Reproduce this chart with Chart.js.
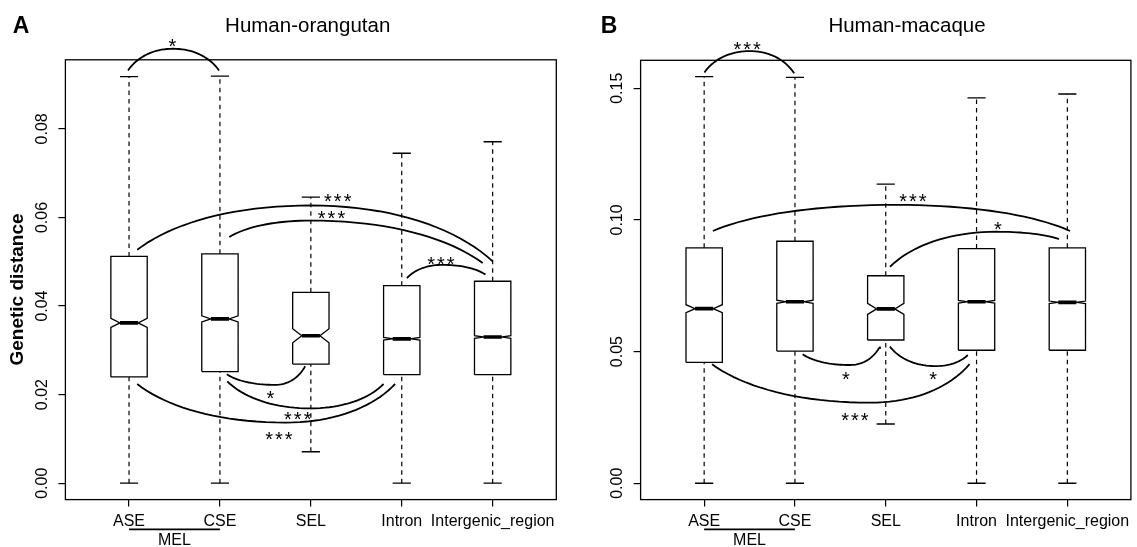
<!DOCTYPE html>
<html lang="en">
<head>
<meta charset="UTF-8">
<title>Genetic distance by region</title>
<script src="https://cdn.jsdelivr.net/npm/chart.js"></script>
<style>
  html, body {
    margin: 0;
    padding: 0;
    background: #fff;
    overflow: hidden;
  }
  .panel {
    position: absolute;
    top: 0;
    height: 547px;
  }
  #panelA { left: 0; width: 570px; }
  #panelB { left: 570px; width: 567px; }
</style>
</head>
<body>
<div class="panel" id="panelA"><canvas id="chartA" width="570" height="547"></canvas></div>
<div class="panel" id="panelB"><canvas id="chartB" width="567" height="547"></canvas></div>

<script>
const categories = ['ASE', 'CSE', 'SEL', 'Intron', 'Intergenic_region'];

// Panel A: Human-orangutan
const yTicksA = [0, 0.02, 0.04, 0.06, 0.08];
const minA   = [0, 0, 0.0071, 0, 0];
const q1A    = [0.0240, 0.0252, 0.0269, 0.0245, 0.0245];
const medA   = [0.0362, 0.0371, 0.0333, 0.0326, 0.0330];
const q3A    = [0.0512, 0.0518, 0.0431, 0.0446, 0.0456];
const maxA   = [0.0918, 0.0919, 0.0646, 0.0745, 0.0771];
const notchA = [0.0010, 0.0007, 0.0016, 0.0003, 0.0003];

// Panel B: Human-macaque
const yTicksB = [0, 0.05, 0.10, 0.15];
const minB   = [0, 0, 0.0225, 0, 0];
const q1B    = [0.0459, 0.0502, 0.0544, 0.0505, 0.0505];
const medB   = [0.0663, 0.0689, 0.0662, 0.0689, 0.0687];
const q3B    = [0.0894, 0.0919, 0.0788, 0.0891, 0.0894];
const maxB   = [0.1544, 0.1541, 0.1136, 0.1463, 0.1478];
const notchB = [0.0015, 0.0006, 0.0021, 0.0005, 0.0005];

// significance brackets: [x start, y start, x peak, y peak, x end, y end] (category index / distance)
const arcsA = [
  [-0.011, 0.0932, 0.483, 0.0981, 0.990, 0.0932],
  [0.090, 0.0527, 1.996, 0.0627, 4.000, 0.0501],
  [1.103, 0.0556, 1.996, 0.0593, 3.890, 0.0497],
  [3.056, 0.0463, 3.450, 0.0493, 3.921, 0.0471],
  [1.076, 0.0246, 1.603, 0.0222, 1.937, 0.0264],
  [1.080, 0.0230, 1.996, 0.0169, 2.800, 0.0224],
  [0.090, 0.0224, 1.720, 0.0137, 2.927, 0.0224]
];
const starsA  = ['*', '***', '***', '***', '*', '***', '***'];
const starXYA = [[0.478, 0.0998], [2.296, 0.0647], [2.227, 0.0608], [3.43, 0.0505],
                 [1.556, 0.0203], [1.856, 0.0156], [1.649, 0.0111]];

const arcsB = [
  [0.003, 0.1560, 0.501, 0.1641, 0.991, 0.1557],
  [0.096, 0.0958, 2.107, 0.1057, 4.030, 0.0958],
  [2.047, 0.0822, 3.222, 0.0955, 3.907, 0.0927],
  [1.085, 0.0490, 1.605, 0.0449, 1.936, 0.0519],
  [2.046, 0.0519, 2.545, 0.0445, 2.903, 0.0487],
  [0.087, 0.0452, 1.828, 0.0306, 2.923, 0.0452]
];
const starsB  = ['***', '***', '*', '*', '*', '***'];
const starXYB = [[0.474, 0.1667], [2.298, 0.1088], [3.234, 0.0984],
                 [1.56, 0.0414], [2.523, 0.0414], [1.661, 0.0259]];

const FONT = "'Liberation Sans', Arial, Helvetica, sans-serif";
Chart.defaults.font.family = FONT;
Chart.defaults.color = '#000';

const BOX_HALF = 0.2, NOTCH_HALF = 0.1, CAP_HALF = 0.1;

function gap(i) { return {x: i, y: null}; }

function boxOutline(q1, med, q3, notch) {
  const pts = [];
  q1.forEach((v, i) => {
    const m = med[i], n = notch[i];
    pts.push(
      {x: i - BOX_HALF, y: v}, {x: i + BOX_HALF, y: v},
      {x: i + BOX_HALF, y: m - n}, {x: i + NOTCH_HALF, y: m}, {x: i + BOX_HALF, y: m + n},
      {x: i + BOX_HALF, y: q3[i]}, {x: i - BOX_HALF, y: q3[i]},
      {x: i - BOX_HALF, y: m + n}, {x: i - NOTCH_HALF, y: m}, {x: i - BOX_HALF, y: m - n},
      {x: i - BOX_HALF, y: v}, gap(i)
    );
  });
  return pts;
}

function whiskers(lo, q1, q3, hi) {
  const pts = [];
  lo.forEach((v, i) => {
    pts.push({x: i, y: q3[i]}, {x: i, y: hi[i]}, gap(i), {x: i, y: v}, {x: i, y: q1[i]}, gap(i));
  });
  return pts;
}

function caps(lo, hi) {
  const pts = [];
  lo.forEach((v, i) => {
    pts.push({x: i - CAP_HALF, y: hi[i]}, {x: i + CAP_HALF, y: hi[i]}, gap(i),
             {x: i - CAP_HALF, y: v}, {x: i + CAP_HALF, y: v}, gap(i));
  });
  return pts;
}

function medians(med) {
  const pts = [];
  med.forEach((m, i) => {
    pts.push({x: i - NOTCH_HALF, y: m}, {x: i + NOTCH_HALF, y: m}, gap(i));
  });
  return pts;
}

function addCubic(pts, p0, c1, c2, p1) {
  for (let k = 0; k <= 20; k++) {
    const t = k / 20, u = 1 - t;
    pts.push({
      x: u*u*u*p0[0] + 3*u*u*t*c1[0] + 3*u*t*t*c2[0] + t*t*t*p1[0],
      y: u*u*u*p0[1] + 3*u*u*t*c1[1] + 3*u*t*t*c2[1] + t*t*t*p1[1]
    });
  }
}

function arcLines(arcs) {
  const pts = [];
  arcs.forEach(a => {
    const [x0, y0, xp, yp, x1, y1] = a;
    let dx = xp - x0, dy = yp - y0;
    addCubic(pts, [x0, y0], [x0 + 0.2*dx, y0 + 0.6*dy], [xp - 0.45*dx, yp], [xp, yp]);
    dx = x1 - xp; dy = y1 - yp;
    addCubic(pts, [xp, yp], [xp + 0.45*dx, yp], [x1 - 0.2*dx, y1 - 0.6*dy], [x1, y1]);
    pts.push(gap(x1));
  });
  return pts;
}

function lineSet(data, width, dash) {
  return {
    data: data,
    showLine: true,
    spanGaps: false,
    pointRadius: 0,
    borderColor: '#000',
    borderWidth: width,
    borderDash: dash || [],
    borderCapStyle: 'butt',
    tension: 0,
    fill: false,
    clip: false
  };
}

const decor = {
  id: 'decor',
  afterDraw(chart, args, o) {
    const {ctx, chartArea: a, scales: {x, y}} = chart;
    ctx.save();
    ctx.strokeStyle = '#000';
    ctx.lineWidth = 1.3;
    ctx.strokeRect(a.left, a.top, a.right - a.left, a.bottom - a.top);

    ctx.fillStyle = '#000';
    ctx.font = '20px ' + FONT;
    ctx.textAlign = 'center';
    ctx.textBaseline = 'alphabetic';
    ctx.letterSpacing = '2px';
    o.stars.forEach((s, k) => {
      const p = o.starXY[k];
      ctx.fillText(s, x.getPixelForValue(p[0]) + 1, y.getPixelForValue(p[1]) + 11.5);
    });
    ctx.letterSpacing = '0px';

    // MEL grouping of ASE and CSE
    ctx.lineWidth = 1.8;
    ctx.beginPath();
    ctx.moveTo(x.getPixelForValue(0), 529.3);
    ctx.lineTo(x.getPixelForValue(1), 529.3);
    ctx.stroke();
    ctx.font = '16px ' + FONT;
    ctx.textBaseline = 'middle';
    ctx.fillText('MEL', x.getPixelForValue(0.5), 540.5);

    ctx.font = '20.5px ' + FONT;
    ctx.fillText(o.title, o.titleX, 26);

    ctx.font = 'bold 23px ' + FONT;
    ctx.textAlign = 'left';
    ctx.textBaseline = 'alphabetic';
    ctx.fillText(o.letter, o.letterX, 33);

    if (o.yLabel) {
      ctx.translate(17.5, 289.5);
      ctx.rotate(-Math.PI / 2);
      ctx.font = 'bold 19px ' + FONT;
      ctx.textAlign = 'center';
      ctx.textBaseline = 'middle';
      ctx.fillText(o.yLabel, 0, 0);
    }
    ctx.restore();
  }
};

function makeChart(id, d) {
  const ctx = document.getElementById(id).getContext('2d');
  return new Chart(ctx, {
    type: 'scatter',
    data: {
      datasets: [
        lineSet(whiskers(d.lo, d.q1, d.q3, d.hi), 1.2, [4.5, 4]),
        lineSet(caps(d.lo, d.hi), 1.3),
        lineSet(boxOutline(d.q1, d.med, d.q3, d.notch), 1.3),
        lineSet(medians(d.med), 3.6),
        lineSet(arcLines(d.arcs), 1.8)
      ]
    },
    options: {
      responsive: false,
      animation: false,
      layout: { padding: { top: d.top, right: d.right, left: 0, bottom: 0 } },
      plugins: {
        legend: { display: false },
        tooltip: { enabled: false },
        decor: {
          stars: d.stars, starXY: d.starXY, title: d.title, titleX: d.titleX,
          letter: d.letter, letterX: d.letterX, yLabel: d.yLabel
        }
      },
      scales: {
        x: {
          type: 'linear',
          min: -0.7,
          max: 4.7,
          afterBuildTicks: s => { s.ticks = categories.map((c, i) => ({value: i})); },
          afterFit: s => { s.height = 547 - d.bottom; },
          ticks: {
            callback: v => categories[v],
            autoSkip: false,
            minRotation: 0,
            maxRotation: 0,
            padding: 5.5,
            font: { size: 16 },
            color: '#000'
          },
          grid: { drawOnChartArea: false, drawTicks: true, tickLength: 7, color: '#000', lineWidth: 1.2 },
          border: { display: false }
        },
        y: {
          type: 'linear',
          min: d.yMin,
          max: d.yMax,
          afterBuildTicks: s => { s.ticks = d.yTicks.map(v => ({value: v})); },
          afterFit: s => { s.width = d.left; },
          ticks: {
            callback: v => v.toFixed(2),
            minRotation: 90,
            maxRotation: 90,
            crossAlign: 'center',
            padding: 0,
            font: { size: 16 },
            color: '#000'
          },
          grid: { drawOnChartArea: false, drawTicks: true, tickLength: 7, color: '#000', lineWidth: 1.2 },
          border: { display: false }
        }
      }
    },
    plugins: [decor]
  });
}

makeChart('chartA', {
  lo: minA, q1: q1A, med: medA, q3: q3A, hi: maxA, notch: notchA,
  arcs: arcsA, stars: starsA, starXY: starXYA, yTicks: yTicksA,
  yMin: -0.0037, yMax: 0.0956,
  left: 65.4, right: 570 - 556.3, top: 59.8, bottom: 499.6,
  title: 'Human-orangutan', titleX: 307.7, letter: 'A', letterX: 12.7,
  yLabel: 'Genetic distance'
});

makeChart('chartB', {
  lo: minB, q1: q1B, med: medB, q3: q3B, hi: maxB, notch: notchB,
  arcs: arcsB, stars: starsB, starXY: starXYB, yTicks: yTicksB,
  yMin: -0.0062, yMax: 0.1606,
  left: 70.6, right: 567 - 560.9, top: 60.3, bottom: 499.6,
  title: 'Human-macaque', titleX: 337, letter: 'B', letterX: 30.7,
  yLabel: null
});
</script>
</body>
</html>
